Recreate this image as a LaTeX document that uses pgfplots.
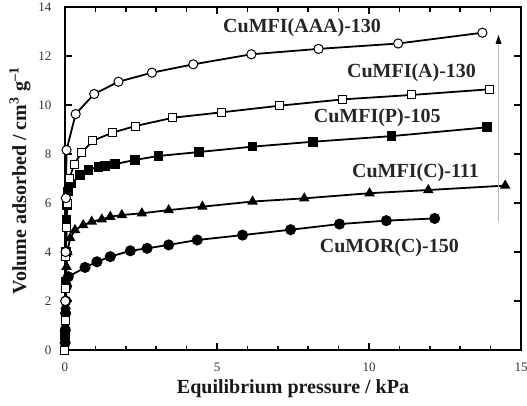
\documentclass[border=0pt]{standalone}
\usepackage{fontspec}
\setmainfont{Liberation Serif}
\usepackage{pgfplots}
\pgfplotsset{compat=1.18}
\begin{document}
\begin{tikzpicture}
\begin{axis}[
  scale only axis, width=456pt, height=343pt,
  xmin=0, xmax=15, ymin=0, ymax=14,
  axis line style={line width=2.6pt},
  xtick={0,5,10,15}, minor xtick={1,2,3,4,6,7,8,9,11,12,13,14},
  ytick={0,2,...,14},
  tick align=inside, major tick length=7pt, minor tick length=4.5pt,
  every tick/.style={line width=1.5pt, black},
  tick label style={font=\fontsize{13}{13}\selectfont, text=black!80},
  /pgf/number format/assume math mode=true,
  xticklabel style={yshift=-9pt},
  yticklabel style={xshift=-10pt},
  xlabel={\bfseries Equilibrium pressure / kPa},
  ylabel={\bfseries Volume adsorbed / cm\textsuperscript{3} g\textsuperscript{\textendash1}},
  label style={font=\fontsize{20}{22}\selectfont, text=black!90},
  xlabel style={at={(axis description cs:0.5,0)}, anchor=north, yshift=-26pt},
  ylabel style={at={(axis description cs:0,0.493)}, anchor=south, yshift=31pt},
  clip=false,
]
% CuMOR(C)-150
\addplot[black, line width=1.8pt, mark=*, mark size=4.6pt, mark options={fill=black}] coordinates {
(0.005,0.3)(0.01,0.8)(0.02,1.5)(0.03,2.0)(0.05,2.6)(0.11,2.99)(0.66,3.37)(1.05,3.60)(1.49,3.81)(2.15,4.05)(2.70,4.15)(3.41,4.29)(4.35,4.49)(5.84,4.69)(7.42,4.91)(9.03,5.14)(10.57,5.28)(12.16,5.37)};
% CuMFI(C)-111
\addplot[black, line width=1.8pt, mark=triangle*, mark size=4.3pt, mark options={fill=black}] coordinates {
(0.005,0.4)(0.01,1.0)(0.02,1.8)(0.03,2.6)(0.05,3.4)(0.08,4.0)(0.17,4.57)(0.33,4.90)(0.60,5.10)(0.88,5.24)(1.21,5.33)(1.49,5.44)(1.87,5.51)(2.53,5.58)(3.41,5.71)(4.52,5.85)(6.17,6.06)(7.87,6.19)(10.02,6.40)(11.95,6.53)(14.48,6.71)};
% CuMFI(P)-105
\addplot[black, line width=1.8pt, mark=square*, mark size=3.9pt, mark options={fill=black}] coordinates {
(0.005,0.6)(0.01,1.5)(0.02,2.8)(0.03,4.0)(0.05,5.3)(0.07,5.9)(0.09,6.47)(0.22,6.80)(0.50,7.14)(0.77,7.35)(1.10,7.48)(1.32,7.52)(1.65,7.59)(2.31,7.76)(3.08,7.92)(4.40,8.08)(6.17,8.30)(8.15,8.50)(10.74,8.73)(13.88,9.09)};
% CuMFI(A)-130
\addplot[black, line width=1.8pt, mark=square*, mark size=4pt, mark options={fill=white, line width=1pt}] coordinates {
(0.0,0.0)(0.01,1.2)(0.02,2.5)(0.03,3.8)(0.05,5.0)(0.08,6.0)(0.15,7.0)(0.30,7.59)(0.55,8.05)(0.91,8.54)(1.56,8.87)(2.31,9.14)(3.55,9.48)(5.14,9.70)(7.05,9.97)(9.14,10.23)(11.40,10.41)(13.95,10.64)};
% CuMFI(AAA)-130
\addplot[black, line width=1.8pt, mark=*, mark size=4.6pt, mark options={fill=white, line width=1pt}] coordinates {
(0.01,2.0)(0.02,4.0)(0.03,6.2)(0.05,8.16)(0.35,9.63)(0.96,10.45)(1.76,10.95)(2.86,11.32)(4.22,11.66)(6.13,12.07)(8.34,12.29)(10.96,12.51)(13.73,12.95)};
% arrow
\draw[gray!55, line width=0.8pt] (axis cs:14.26,5.22) -- (axis cs:14.26,12.55);
\fill[black] (axis cs:14.26,12.86) -- ++(-3pt,-9pt) -- ++(6pt,0pt) -- cycle;
% labels
\begin{scope}[every node/.style={font=\fontsize{20}{22}\selectfont\bfseries, text=black!85}]
\node at (axis cs:7.8,13.14) {CuMFI(AAA)-130};
\node at (axis cs:11.4,11.3) {CuMFI(A)-130};
\node at (axis cs:10.27,9.47) {CuMFI(P)-105};
\node at (axis cs:11.53,7.22) {CuMFI(C)-111};
\node at (axis cs:10.67,4.16) {CuMOR(C)-150};
\end{scope}
\end{axis}
\pgfresetboundingbox
\path[use as bounding box] ([xshift=-65pt,yshift=-55pt]current axis.south west) rectangle ([xshift=6pt,yshift=7pt]current axis.north east);
\end{tikzpicture}
\end{document}
